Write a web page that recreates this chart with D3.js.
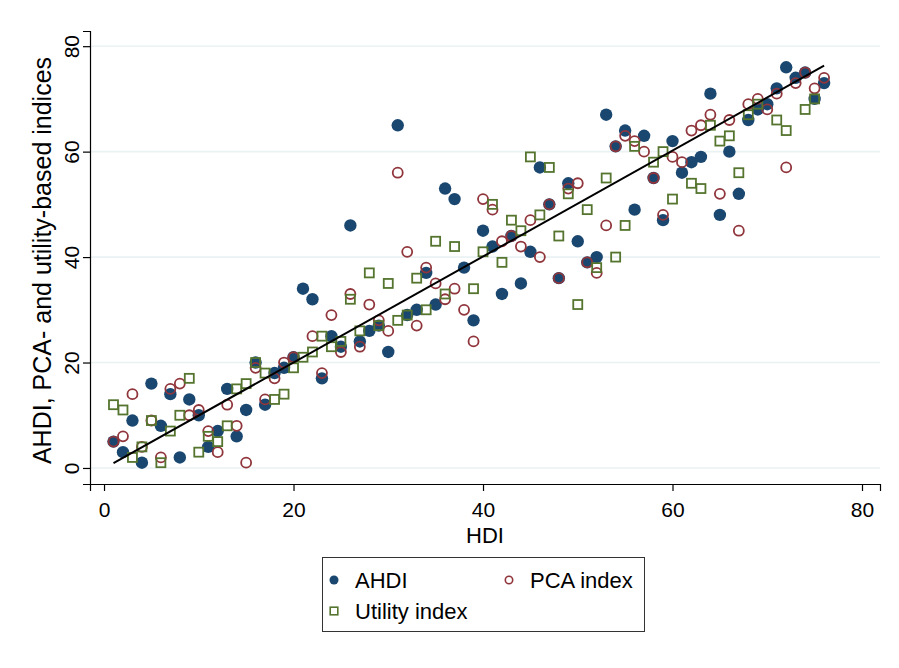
<!DOCTYPE html>
<html>
<head>
<meta charset="utf-8">
<script src="https://cdn.jsdelivr.net/npm/d3@7"></script>
<style>
    body { margin: 0; background: #ffffff; }
    text { font-family: "Liberation Sans", Arial, sans-serif; fill: #000; }
</style>
</head>
<body>
<div id="container"></div>
<script>
// HDI rank on the x axis, one entry per country
const hdi = [
    1, 2, 3, 4, 5, 6, 7, 8, 9, 10, 11, 12, 13, 14, 15, 16, 17, 18, 19, 20,
    21, 22, 23, 24, 25, 26, 27, 28, 29, 30, 31, 32, 33, 34, 35, 36, 37, 38, 39, 40,
    41, 42, 43, 44, 45, 46, 47, 48, 49, 50, 51, 52, 53, 54, 55, 56, 57, 58, 59, 60,
    61, 62, 63, 64, 65, 66, 67, 68, 69, 70, 71, 72, 73, 74, 75, 76
]

const ahdi = [
    5, 3, 9, 1, 16, 8, 14, 2, 13, 10, 4, 7, 15, 6, 11, 20, 12, 18, 19, 21,
    34, 32, 17, 25, 23, 46, 24, 26, 27, 22, 65, 29, 30, 37, 31, 53, 51, 38, 28, 45,
    42, 33, 44, 35, 41, 57, 50, 36, 54, 43, 39, 40, 67, 61, 64, 49, 63, 55, 47, 62,
    56, 58, 59, 71, 48, 60, 52, 66, 68, 69, 72, 76, 74, 75, 70, 73
]

const pcaIndex = [
    5, 6, 14, 4, 9, 2, 15, 16, 10, 11, 7, 3, 12, 8, 1, 19, 13, 17, 20, 21,
    null, 25, 18, 29, 22, 33, 23, 31, 28, 26, 56, 41, 27, 38, 35, 32, 34, 30, 24, 51,
    49, 43, 44, 42, 47, 40, 50, 36, 53, 54, 39, 37, 46, 61, 63, 62, 60, 55, 48, 59,
    58, 64, 65, 67, 52, 66, 45, 69, 70, 68, 71, 57, 73, 75, 72, 74
]

const utilityIndex = [
    12, 11, 2, 4, 9, 1, 7, 10, 17, 3, 6, 5, 8, 15, 16, 20, 18, 13, 14, 19,
    21, 22, 25, 23, 24, 32, 26, 37, 27, 35, 28, 29, 36, 30, 43, 33, 42, null, 34, 41,
    50, 39, 47, 45, 59, 48, 57, 44, 52, 31, 49, 38, 55, 40, 46, 61, null, 58, 60, 51,
    null, 54, 53, 65, 62, 63, 56, 67, 69, null, 66, 64, null, 68, 70, null
]

// fitted line endpoints
const fitX = [1, 76]
const fitY = [0.9, 76.3]

const xTicks = [0, 20, 40, 60, 80]
const yTicks = [0, 20, 40, 60, 80]

const seriesNames = ['AHDI', 'PCA index', 'Utility index']

const config = {
    width: 899,
    height: 668,
    plot: { left: 90, right: 880, top: 31, bottom: 484 },
    colors: { ahdi: '#1a476f', pca: '#90353b', utility: '#55752f', grid: '#eaf2f3' },
}

const svg = d3
    .select('#container')
    .append('svg')
    .attr('width', config.width)
    .attr('height', config.height)

svg.append('rect')
    .attr('width', config.width)
    .attr('height', config.height)
    .attr('fill', '#ffffff')

// 0 sits at x=104 and 80 at x=862; the axis runs a little past both
const scaleX = d3
    .scaleLinear()
    .domain([-1.48, 81.9])
    .range([config.plot.left, config.plot.right])

const scaleY = d3
    .scaleLinear()
    .domain([-3.04, 82.88])
    .range([config.plot.bottom, config.plot.top])

// gridlines
svg.append('g')
    .selectAll('line')
    .data(yTicks)
    .enter()
    .append('line')
    .attr('x1', config.plot.left)
    .attr('x2', config.plot.right)
    .attr('y1', d => scaleY(d))
    .attr('y2', d => scaleY(d))
    .attr('stroke', config.colors.grid)
    .attr('stroke-width', 1.6)

const xAxis = svg
    .append('g')
    .attr('transform', `translate(0, ${config.plot.bottom})`)
    .call(d3.axisBottom(scaleX).tickValues(xTicks).tickSizeOuter(0).tickSize(7).tickPadding(11))
xAxis.selectAll('text').attr('font-size', '21px').attr('font-family', '"Liberation Sans", Arial, sans-serif')

const yAxis = svg
    .append('g')
    .attr('transform', `translate(${config.plot.left}, 0)`)
    .call(d3.axisLeft(scaleY).tickValues(yTicks).tickSizeOuter(0).tickSize(7))
yAxis.selectAll('text')
    .attr('font-size', '21px')
    .attr('font-family', '"Liberation Sans", Arial, sans-serif')
    .attr('x', null)
    .attr('dy', null)
    .attr('text-anchor', 'middle')
    .attr('transform', 'translate(-11, 0) rotate(-90)')

svg.selectAll('.domain, .tick line').attr('stroke', '#000').attr('stroke-width', 1.2)

svg.append('text')
    .attr('x', (config.plot.left + config.plot.right) / 2)
    .attr('y', 543)
    .attr('font-size', '22px')
    .attr('text-anchor', 'middle')
    .text('HDI')

svg.append('text')
    .attr('transform', `translate(51, ${(config.plot.top + config.plot.bottom) / 2 + 3}) rotate(-90)`)
    .attr('font-size', '25px')
    .attr('text-anchor', 'middle')
    .text('AHDI, PCA- and utility-based indices')

const pts = (ys) => hdi.map((x, i) => ({ x: x, y: ys[i] })).filter(d => d.y != null)

// AHDI: filled circles
svg.append('g')
    .selectAll('circle')
    .data(pts(ahdi))
    .enter()
    .append('circle')
    .attr('cx', d => scaleX(d.x))
    .attr('cy', d => scaleY(d.y))
    .attr('r', 6.2)
    .attr('fill', config.colors.ahdi)

// PCA: hollow circles
svg.append('g')
    .selectAll('circle')
    .data(pts(pcaIndex))
    .enter()
    .append('circle')
    .attr('cx', d => scaleX(d.x))
    .attr('cy', d => scaleY(d.y))
    .attr('r', 5)
    .attr('fill', 'none')
    .attr('stroke', config.colors.pca)
    .attr('stroke-width', 1.8)

// Utility: hollow squares
const sq = 9
svg.append('g')
    .selectAll('rect')
    .data(pts(utilityIndex))
    .enter()
    .append('rect')
    .attr('x', d => scaleX(d.x) - sq / 2)
    .attr('y', d => scaleY(d.y) - sq / 2)
    .attr('width', sq)
    .attr('height', sq)
    .attr('fill', 'none')
    .attr('stroke', config.colors.utility)
    .attr('stroke-width', 1.8)

svg.append('path')
    .datum(fitX.map((x, i) => [x, fitY[i]]))
    .attr('d', d3.line().x(d => scaleX(d[0])).y(d => scaleY(d[1])))
    .attr('stroke', '#000')
    .attr('stroke-width', 2)
    .attr('fill', 'none')

// legend
const legend = svg.append('g')
legend.append('rect')
    .attr('x', 322.5)
    .attr('y', 557.5)
    .attr('width', 322)
    .attr('height', 74)
    .attr('fill', '#fff')
    .attr('stroke', '#333')
    .attr('stroke-width', 1)

const legendItems = [
    { name: seriesNames[0], x: 334, y: 580, kind: 'dot', color: config.colors.ahdi },
    { name: seriesNames[1], x: 509, y: 580, kind: 'circle', color: config.colors.pca },
    { name: seriesNames[2], x: 334, y: 611, kind: 'square', color: config.colors.utility },
]

legendItems.forEach(item => {
    if (item.kind === 'dot') {
        legend.append('circle').attr('cx', item.x).attr('cy', item.y).attr('r', 4.5).attr('fill', item.color)
    } else if (item.kind === 'circle') {
        legend.append('circle').attr('cx', item.x).attr('cy', item.y).attr('r', 3.7)
            .attr('fill', 'none').attr('stroke', item.color).attr('stroke-width', 1.6)
    } else {
        legend.append('rect').attr('x', item.x - 3.8).attr('y', item.y - 3.8).attr('width', 7.6).attr('height', 7.6)
            .attr('fill', 'none').attr('stroke', item.color).attr('stroke-width', 1.6)
    }
    legend.append('text')
        .attr('x', item.x + 21)
        .attr('y', item.y + 8)
        .attr('font-size', '22px')
        .text(item.name)
})
</script>
</body>
</html>
